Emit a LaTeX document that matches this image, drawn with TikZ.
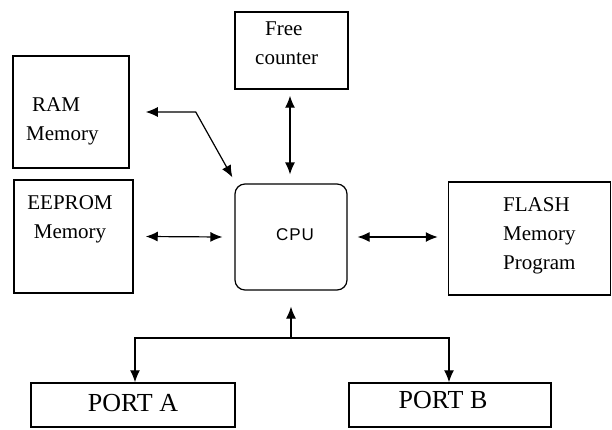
\documentclass[tikz,border=0pt]{standalone}
\usepackage{fontspec}
\setmainfont{Liberation Serif}
\newfontfamily\cpufont{Liberation Sans}
\usetikzlibrary{arrows.meta}
\begin{document}
\begin{tikzpicture}[x=1pt,y=1pt,
  box/.style={draw, line width=1.5pt, inner sep=0pt},
  lbl/.style={inner sep=0pt, font=\fontsize{21}{29}\selectfont},
  portlbl/.style={inner sep=0pt, font=\fontsize{26}{30}\selectfont},
  tip/.style={Latex[length=12pt,width=10pt]},
  conn/.style={line width=1.2pt, {Latex[length=12pt,width=10pt]}-{Latex[length=12pt,width=10pt]}},
  oneway/.style={line width=1.2pt, -{Latex[length=12pt,width=10pt]}}]
\useasboundingbox (0,0) rectangle (612,429);
% boxes
\node[box, minimum width=116pt, minimum height=112pt] (ram) at (71,317) {};
\node[box, minimum width=113pt, minimum height=77pt] (free) at (291.5,378.5) {};
\node[box, minimum width=119pt, minimum height=113pt] (eeprom) at (73.5,192.5) {};
\node[draw, line width=1.2pt, rounded corners=10pt, minimum width=112pt, minimum height=106pt, inner sep=0pt] (cpu) at (291,192) {};
\node[box, minimum width=162pt, minimum height=113pt] (flash) at (529.5,190.5) {};
\node[box, minimum width=204pt, minimum height=44pt] (porta) at (133,24) {};
\node[box, minimum width=202pt, minimum height=44pt] (portb) at (450,24) {};
% labels
\node[lbl, anchor=north west, align=left] (ramt) at (26,332) {\hspace*{6pt}RAM\\Memory};
\node[lbl, anchor=north west, align=left] (freet) at (255,407) {\hspace*{10pt}Free\\counter};
\node[lbl, anchor=north, align=center] (eepromt) at (70,234) {EEPROM\\Memory};
\node[inner sep=0pt, font=\cpufont\fontsize{17}{20}\selectfont] (cput) at (295,194) {\addfontfeature{LetterSpace=5}CPU};
\node[lbl, anchor=north west, align=left] (flasht) at (503,232) {FLASH\\Memory\\Program};
\node[portlbl, anchor=base] (portat) at (133,18) {PORT A};
\node[portlbl, anchor=base] (portbt) at (443,21) {PORT B};
% connectors
\coordinate (rambend) at ([xshift=66pt]ram.east);
\draw[conn] ([xshift=16pt]ram.east) -- (rambend) -- ([xshift=-2pt,yshift=6pt]cpu.north west);
\draw[conn] ([xshift=-1.5pt,yshift=-6pt]free.south) -- ([xshift=-1pt,yshift=9pt]cpu.north);
\draw[conn] ([xshift=12pt]eeprom.east) -- ([xshift=-12pt]cpu.west);
\draw[conn] ([xshift=10pt]cpu.east) -- ([xshift=-10pt,yshift=1.5pt]flash.west);
\coordinate (junc) at (291,91);
\draw[oneway] (junc) -- ([yshift=-16pt]cpu.south);
\draw[conn] ([xshift=2pt]porta.north) |- (junc) -| ([xshift=-1pt]portb.north);
\end{tikzpicture}
\end{document}
